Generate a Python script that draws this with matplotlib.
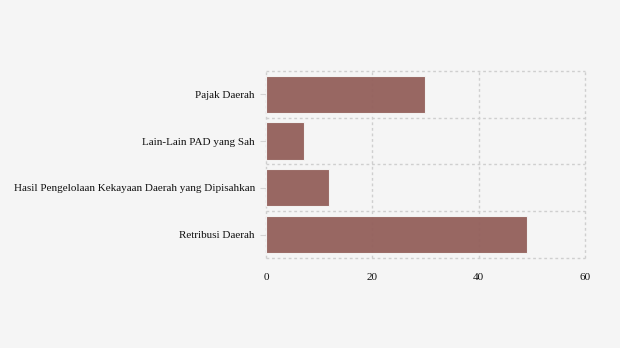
import matplotlib
matplotlib.use("Agg")
import matplotlib.pyplot as plt

categories = ["Retribusi Daerah",
              "Hasil Pengelolaan Kekayaan Daerah yang Dipisahkan",
              "Lain-Lain PAD yang Sah",
              "Pajak Daerah"]
values = [49.1, 11.9, 7.1, 29.9]
x_ticks = [0, 20, 40, 60]

plt.rcParams["font.family"] = ["Liberation Serif", "DejaVu Serif"]

fig = plt.figure(figsize=(6.2, 3.48), dpi=100, facecolor="#f5f5f5")
ax = fig.add_axes([0.429, 0.259, 0.5145, 0.537])
ax.set_facecolor("#f5f5f5")

ypos = list(range(len(categories)))
ax.barh(ypos, values, height=0.8, color="#935f5a", alpha=0.95,
        edgecolor="#f5f5f5", linewidth=0.8, zorder=2)

ax.set_xlim(0, 60)
ax.set_ylim(-0.5, len(categories) - 0.5)
ax.set_xticks(x_ticks)
ax.set_xticklabels([str(t) for t in x_ticks])
ax.set_yticks(ypos)
ax.set_yticklabels(categories)

grid_kw = dict(color="#cfcfcf", linestyle=(0, (2, 2)),
               linewidth=1.0, zorder=1, clip_on=False)
for t in x_ticks:
    ax.axvline(t, **grid_kw)
for b in [y - 0.5 for y in ypos] + [len(categories) - 0.5]:
    ax.axhline(b, **grid_kw)

for s in ax.spines.values():
    s.set_visible(False)

ax.tick_params(axis="y", length=4, color="#d4d4d4", labelsize=8,
               labelcolor="#111111", pad=4)
ax.tick_params(axis="x", length=0, labelsize=8, labelcolor="#111111", pad=11)

fig.savefig("out.png", dpi=100, facecolor=fig.get_facecolor())
